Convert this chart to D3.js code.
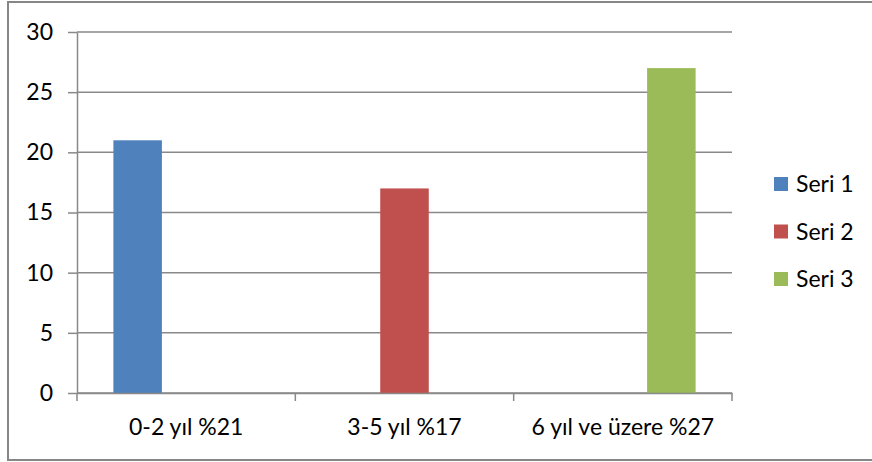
<!DOCTYPE html>
<html>
<head>
<meta charset="utf-8">
<script src="https://cdn.jsdelivr.net/npm/d3@7"></script>
<style>
  html, body { margin: 0; padding: 0; background: #fff; }
  svg { display: block; font-family: Lato, "Open Sans", sans-serif; }
</style>
</head>
<body>
<svg id="chart" width="872" height="462"></svg>
<script>
// Categories along the x axis
const categories = ["0-2 yıl %21", "3-5 yıl %17", "6 yıl ve üzere %27"];
// Series names and their values per category
const seriesNames = ["Seri 1", "Seri 2", "Seri 3"];
const seri1 = [21, 0, 0];
const seri2 = [0, 17, 0];
const seri3 = [0, 0, 27];
const seriesValues = [seri1, seri2, seri3];
const seriesColors = ["#4F81BD", "#C0504D", "#9BBB59"];
// Value axis ticks
const yTicks = [0, 5, 10, 15, 20, 25, 30];

const svg = d3.select("#chart");
const W = 872, H = 462;
const plot = { left: 77, right: 732, top: 32, bottom: 393 };
const gridColor = "#898989";
const fontSize = 23;

// Outer chart frame
svg.append("rect")
  .attr("x", 8).attr("y", 2)
  .attr("width", W + 10).attr("height", 458)
  .attr("fill", "#fff")
  .attr("stroke", "#868686").attr("stroke-width", 2);

const x0 = d3.scaleBand().domain(categories).range([plot.left, plot.right]).padding(0);
const x1 = d3.scaleBand().domain(seriesNames).range([0, x0.bandwidth()])
  .paddingInner(0).paddingOuter(0.75);
const y = d3.scaleLinear().domain([0, 30]).range([plot.bottom, plot.top]);

// Horizontal gridlines
svg.append("g")
  .selectAll("line")
  .data(yTicks)
  .join("line")
  .attr("x1", plot.left).attr("x2", plot.right)
  .attr("y1", d => y(d)).attr("y2", d => y(d))
  .attr("stroke", gridColor).attr("stroke-width", 1.5);

// Y axis
const yAxis = svg.append("g")
  .attr("transform", `translate(${plot.left},0)`)
  .call(d3.axisLeft(y).tickValues(yTicks).tickSize(9).tickPadding(15).tickSizeOuter(0));
yAxis.select(".domain").attr("stroke", gridColor).attr("stroke-width", 1.5);
yAxis.selectAll(".tick line").attr("stroke", gridColor).attr("stroke-width", 1.5);
yAxis.selectAll(".tick text")
  .attr("fill", "#000").style("font-size", fontSize + "px").style("font-family", "Lato, sans-serif");

// Bars
const rows = categories.map((c, i) => ({
  cat: c,
  vals: seriesNames.map((s, j) => ({ s, v: seriesValues[j][i], color: seriesColors[j] }))
}));
svg.append("g")
  .selectAll("g")
  .data(rows)
  .join("g")
  .attr("transform", d => `translate(${x0(d.cat)},0)`)
  .selectAll("rect")
  .data(d => d.vals.filter(v => v.v > 0))
  .join("rect")
  .attr("x", d => x1(d.s))
  .attr("width", x1.bandwidth())
  .attr("y", d => y(d.v))
  .attr("height", d => y(0) - y(d.v))
  .attr("fill", d => d.color);

// X axis with ticks at category boundaries
const xAxis = svg.append("g")
  .attr("transform", `translate(0,${plot.bottom})`)
  .call(d3.axisBottom(x0).tickSize(0).tickPadding(26).tickSizeOuter(0));
xAxis.select(".domain").attr("stroke", gridColor).attr("stroke-width", 1.5);
xAxis.selectAll(".tick text")
  .attr("fill", "#000").style("font-size", fontSize + "px").style("font-family", "Lato, sans-serif");
const bounds = categories.map(c => x0(c)).concat([x0(categories[categories.length - 1]) + x0.bandwidth()]);
xAxis.selectAll(".bound")
  .data(bounds)
  .join("line")
  .attr("class", "bound")
  .attr("x1", d => d).attr("x2", d => d)
  .attr("y1", 0).attr("y2", 8)
  .attr("stroke", gridColor).attr("stroke-width", 1.5);

// Legend
const legend = svg.append("g").attr("transform", "translate(774,177)");
const item = legend.selectAll("g")
  .data(seriesNames)
  .join("g")
  .attr("transform", (d, i) => `translate(0,${i * 47.5})`);
item.append("rect")
  .attr("width", 14).attr("height", 14)
  .attr("fill", (d, i) => seriesColors[i]);
item.append("text")
  .attr("x", 22).attr("y", 7).attr("dy", "0.35em")
  .style("font-size", fontSize + "px")
  .text(d => d);
</script>
</body>
</html>
